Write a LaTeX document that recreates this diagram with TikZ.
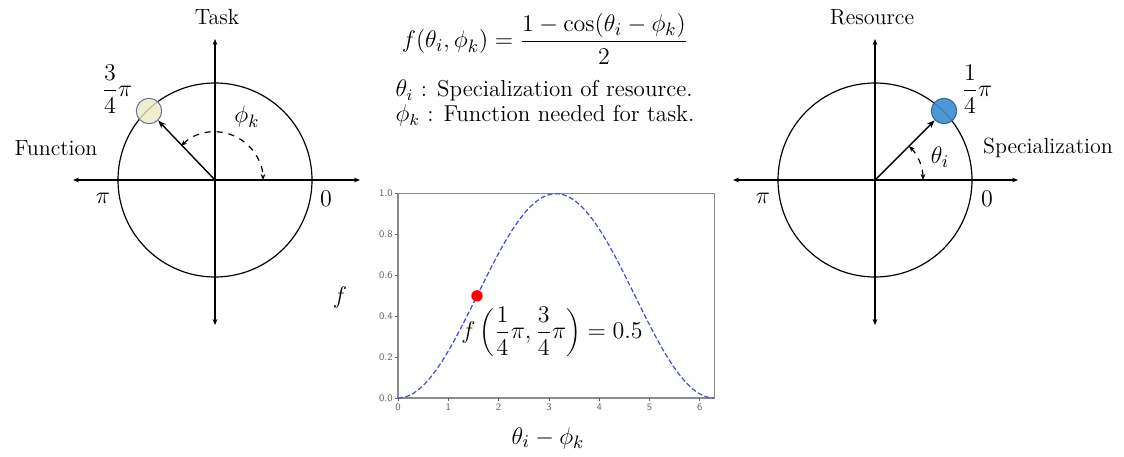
\documentclass[tikz,border=0pt]{standalone}
\usepackage{tikz}
\usetikzlibrary{arrows.meta}
\definecolor{curveblue}{RGB}{70,70,240}
\definecolor{taskfill}{RGB}{238,233,196}
\definecolor{taskline}{RGB}{90,120,145}
\definecolor{resfill}{RGB}{60,140,205}
\definecolor{resline}{RGB}{40,105,160}
\begin{document}
\begin{tikzpicture}[x=0.5pt, y=0.5pt,
    axisline/.style={line width=0.6pt, {Stealth[length=3pt,width=2.4pt]}-{Stealth[length=3pt,width=2.4pt]}},
    ring/.style={line width=0.6pt},
    vec/.style={line width=0.7pt, -{Stealth[length=4pt,width=3pt]}},
    anglearc/.style={line width=0.6pt, dashed, {Stealth[length=3pt,width=2.4pt]}-{Stealth[length=3pt,width=2.4pt]}},
    lbl/.style={font=\fontsize{11}{13}\selectfont},
    mlbl/.style={font=\fontsize{12.5}{15}\selectfont},
    tick/.style={font=\fontsize{5}{6}\sffamily, text=black!60, inner sep=1pt}]
    \useasboundingbox (0,0) rectangle (1124,456);

    % Task circle (left)
    \coordinate (lo) at (215,276);
    \coordinate (lw) at (73,276);
    \coordinate (le) at (360,276);
    \coordinate (ln) at (215,417);
    \coordinate (ls) at (215,131);
    \draw[axisline] (lw) -- (le);
    \draw[axisline] (ls) -- (ln);
    \draw[ring] (lo) circle (97);
    \node[circle, draw=taskline, fill=taskfill, fill opacity=0.8, line width=0.5pt, minimum size=12.7pt, inner sep=0] (task) at (149,345) {};
    \draw[vec] (lo) -- (task);
    \draw[anglearc] ([shift={(135:48)}]lo) arc (135:0:48);
    \node[mlbl] (phik) at (247,339) {$\phi_k$};
    \node[mlbl] (taskang) at (117,367) {$\displaystyle\frac{3}{4}\pi$};
    \node[lbl] (func) at (56,308) {Function};
    \node[lbl] (tasklbl) at (217,439) {Task};
    \node[mlbl] (lpi) at (103,258) {$\pi$};
    \node[mlbl] (lzero) at (326,257) {$0$};

    % Resource circle (right)
    \coordinate (ro) at (875,276);
    \coordinate (rw) at (733,276);
    \coordinate (re) at (1018,276);
    \coordinate (rn) at (875,417);
    \coordinate (rs) at (875,131);
    \draw[axisline] (rw) -- (re);
    \draw[axisline] (rs) -- (rn);
    \draw[ring] (ro) circle (97);
    \node[circle, draw=resline, fill=resfill, fill opacity=0.9, line width=0.5pt, minimum size=12.7pt, inner sep=0] (res) at (944,345) {};
    \draw[vec] (ro) -- (res);
    \draw[anglearc] ([shift={(45:48)}]ro) arc (45:0:48);
    \node[mlbl] (thetai) at (940,299) {$\theta_i$};
    \node[mlbl] (resang) at (977,367) {$\displaystyle\frac{1}{4}\pi$};
    \node[lbl] (spec) at (1048,308) {Specialization};
    \node[lbl] (reslbl) at (872,439) {Resource};
    \node[mlbl] (rpi) at (763,258) {$\pi$};
    \node[mlbl] (rzero) at (987,257) {$0$};

    % Formula and definitions
    \node[mlbl] (fdef) at (545,417) {$\displaystyle f(\theta_i,\phi_k)=\frac{1-\cos(\theta_i-\phi_k)}{2}$};
    \node[align=left, font=\fontsize{11.5}{13}\selectfont] (defs) at (545,353) {$\theta_i$ : Specialization of resource.\\[-0.5pt]$\phi_k$ : Function needed for task.};

    % Plot of f
    \begin{scope}[shift={(398,58)}, x=25.15pt, y=102.15pt]
        \draw[black!45, line width=0.6pt] (0,0) rectangle (6.3,1);
        \foreach \t in {0,...,6} {
            \draw[black!60, line width=0.4pt] (\t,0) -- (\t,-0.015);
            \node[tick, anchor=north] at (\t,-0.015) {\t};
        }
        \foreach \v in {0.0,0.2,0.4,0.6,0.8,1.0} {
            \draw[black!60, line width=0.4pt] (0,\v) -- (-0.06,\v);
            \node[tick, anchor=east] at (-0.06,\v) {\v};
        }
        \draw[curveblue, line width=0.6pt, dash pattern=on 2.5pt off 1.2pt, domain=0:6.2832, samples=120] plot (\x, {(1-cos(\x r))/2});
        \node[circle, fill=red, inner sep=0, minimum size=5.7pt] (pt) at (1.5708,0.5) {};
    \end{scope}
    \node[mlbl] (fval) at (552,124) {$\displaystyle f\left(\frac{1}{4}\pi,\frac{3}{4}\pi\right)=0.5$};
    \node[font=\fontsize{13}{15}\selectfont] (xlab) at (548,18) {$\theta_i-\phi_k$};
    \node[font=\fontsize{13}{15}\selectfont] (ylab) at (340,159) {$f$};
\end{tikzpicture}
\end{document}
